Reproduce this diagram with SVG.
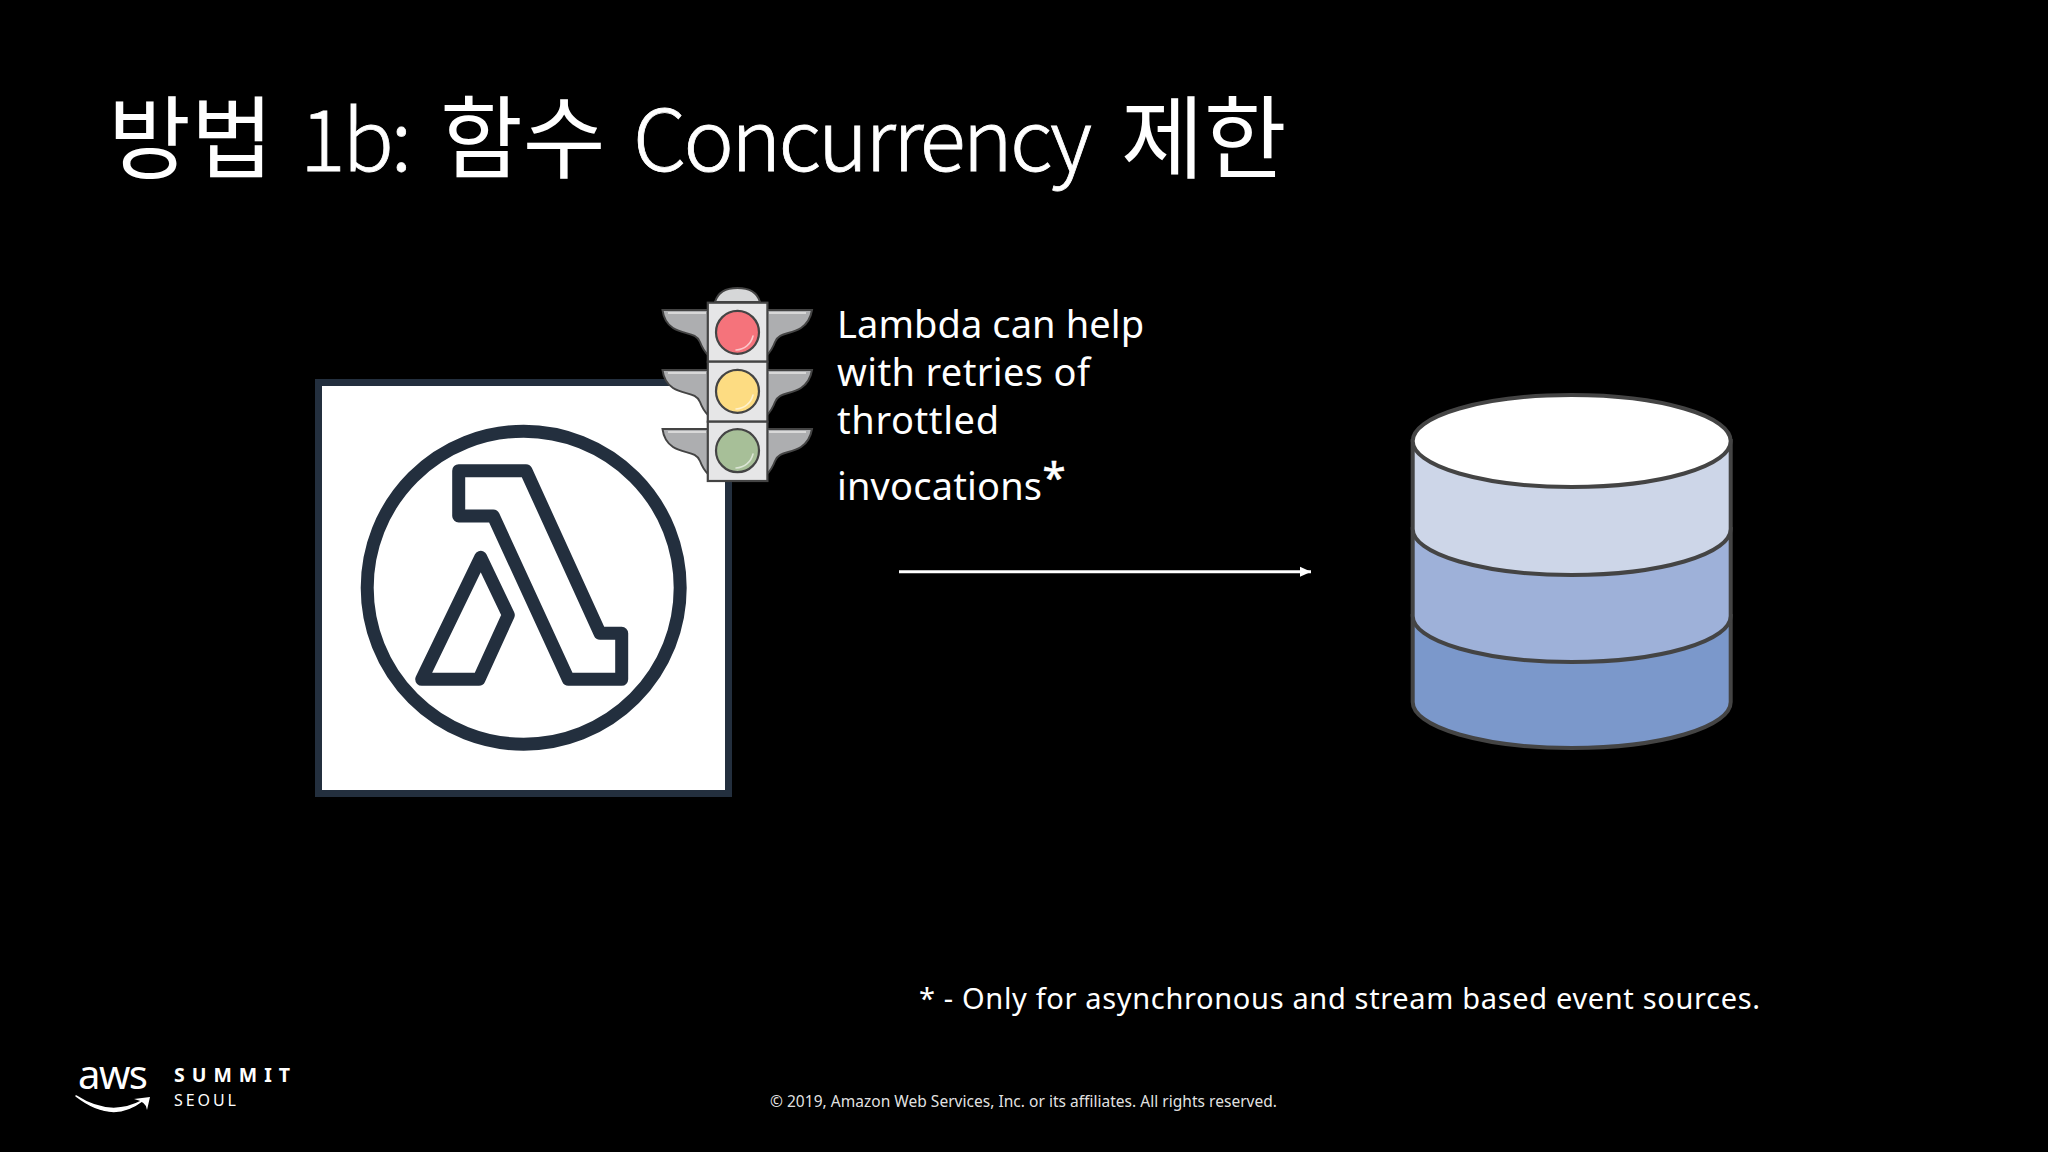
<svg xmlns="http://www.w3.org/2000/svg" width="2048" height="1152" viewBox="0 0 2048 1152">
<style>
text{fill:#fff;font-family:"Noto Sans","Noto Sans CJK KR",sans-serif}
.ti{font-size:90px;font-weight:400;font-family:"Noto Sans CJK KR","Noto Sans",sans-serif}
.tl1{font-size:85px;font-weight:300;font-family:"Noto Sans CJK KR","Noto Sans",sans-serif;stroke:#fff;stroke-width:.8}
.la{font-size:38px}
.ln{fill:none;stroke:#232f3e;stroke-width:13;stroke-linejoin:round}
.cy{stroke:#444;stroke-width:4}
.tl{stroke:#444;stroke-width:2.2}
.wing{fill:#adaeb0;stroke:#444;stroke-width:2}
.hl{fill:none;stroke:#fff;stroke-opacity:.6;stroke-width:1.6;stroke-linecap:round}
</style>
<defs>
<marker id="ah" markerUnits="userSpaceOnUse" markerWidth="12" markerHeight="12" refX="11" refY="6" orient="auto"><path d="M0,1 L11,6 L0,11 Z" fill="#fff"/></marker>
<g id="lwing"><path class="wing" d="M708,310 H662.500 Q664,322 673,328 C684,335 696,332 700,342 Q703,350 708,355 Z"/><path d="M668,313 H706" stroke="#d8d8d8" stroke-width="2"/></g>
<g id="rwing"><path class="wing" d="M767,310 H812 Q810,322 801,328 C790,335 779,332 775,342 Q772,350 767,355 Z"/><path d="M769,313 H806" stroke="#d8d8d8" stroke-width="2"/></g>
</defs>
<rect width="2048" height="1152" fill="#000"/>
<g id="title">
<text class="ti" x="108" y="171">방법</text>
<text class="tl1" x="300" y="171" textLength="112">1b:</text>
<text class="ti" x="440" y="171">함수</text>
<text class="tl1" x="633" y="171" textLength="459">Concurrency</text>
<text class="ti" x="1121" y="171">제한</text>
</g>
<g id="connectors"><path d="M899,571.700 H1311" stroke="#fff" stroke-width="3" fill="none" marker-end="url(#ah)"/></g>
<g id="lambda">
<rect x="318.500" y="382.500" width="410" height="411" fill="#fff" stroke="#232f3e" stroke-width="7"/>
<circle class="ln" cx="523.700" cy="587.700" r="156.500"/>
<path class="ln" d="M458.700,470.700 H526 L600,633.300 H621.700 V679.300 H568.300 L493.300,516 H458.700 Z"/>
<path class="ln" d="M480.700,557.300 L508.300,615 L479,679.300 H421.700 Z"/>
</g>
<g id="traffic-light">
<path d="M715,302 Q719,288 737.500,288 Q756,288 760,302 Z" fill="#d6d7d8" stroke="#444" stroke-width="2"/>
<use href="#lwing"/><use href="#rwing"/>
<use href="#lwing" y="60"/><use href="#rwing" y="60"/>
<use href="#lwing" y="119"/><use href="#rwing" y="119"/>
<rect class="tl" x="707.800" y="302.700" width="59.600" height="59" fill="#e6e6e7"/>
<rect class="tl" x="707.800" y="361.700" width="59.600" height="60" fill="#e6e6e7"/>
<rect class="tl" x="707.800" y="421.700" width="59.600" height="59.300" fill="#e6e6e7"/>
<circle class="tl" cx="737.500" cy="332.300" r="21.500" fill="#f5737b"/>
<circle class="tl" cx="737.500" cy="391.300" r="21.500" fill="#fddc82"/>
<circle class="tl" cx="737.500" cy="450.700" r="21.500" fill="#a7bf98"/>
<path class="hl" d="M736,350 A18,18 0 0 0 753,336"/>
<path class="hl" d="M736,409 A18,18 0 0 0 753,395"/>
<path class="hl" d="M736,468 A18,18 0 0 0 753,454"/>
</g>
<g id="note">
<text class="la" x="837" y="338" textLength="307">Lambda can help</text>
<text class="la" x="837" y="386" textLength="253">with retries of</text>
<text class="la" x="837" y="434" textLength="162">throttled</text>
<text class="la" x="837" y="500" textLength="205">invocations</text>
<text x="1054" y="493" font-size="42" text-anchor="middle" stroke="#fff" stroke-width=".6">*</text>
</g>
<g id="database">
<path class="cy" fill="#7b98cb" d="M1412.700,616 V702 A159,46 0 0 0 1730.700,702 V616 Z"/>
<path class="cy" fill="#9eb1d9" d="M1412.700,529 V616 A159,46 0 0 0 1730.700,616 V529 Z"/>
<path class="cy" fill="#cdd6e8" d="M1412.700,441 V529 A159,46 0 0 0 1730.700,529 V441 Z"/>
<ellipse class="cy" cx="1571.700" cy="441" rx="159" ry="46" fill="#fff"/>
</g>
<text id="footnote" x="919" y="1009" font-size="29" textLength="841">* - Only for asynchronous and stream based event sources.</text>
<text id="copyright" x="770" y="1107" font-size="15.500" fill-opacity=".9" textLength="507">© 2019, Amazon Web Services, Inc. or its affiliates. All rights reserved.</text>
<g id="logo">
<text x="78" y="1089" font-size="40" textLength="70" font-family="'Open Sans',sans-serif">aws</text>
<path d="M76,1096 Q110,1118 142,1101 Q112,1124 76,1096 Z" fill="#fff" stroke="#fff" stroke-width="1.500" stroke-linejoin="round"/>
<path d="M134,1099 L150,1097 L147,1110 Q147,1102 134,1099 Z" fill="#fff"/>
<text x="174" y="1082" font-size="19.500" font-weight="700" textLength="116">SUMMIT</text>
<text x="174" y="1106" font-size="16" fill="#a5a5a5" textLength="62">SEOUL</text>
</g>
</svg>
